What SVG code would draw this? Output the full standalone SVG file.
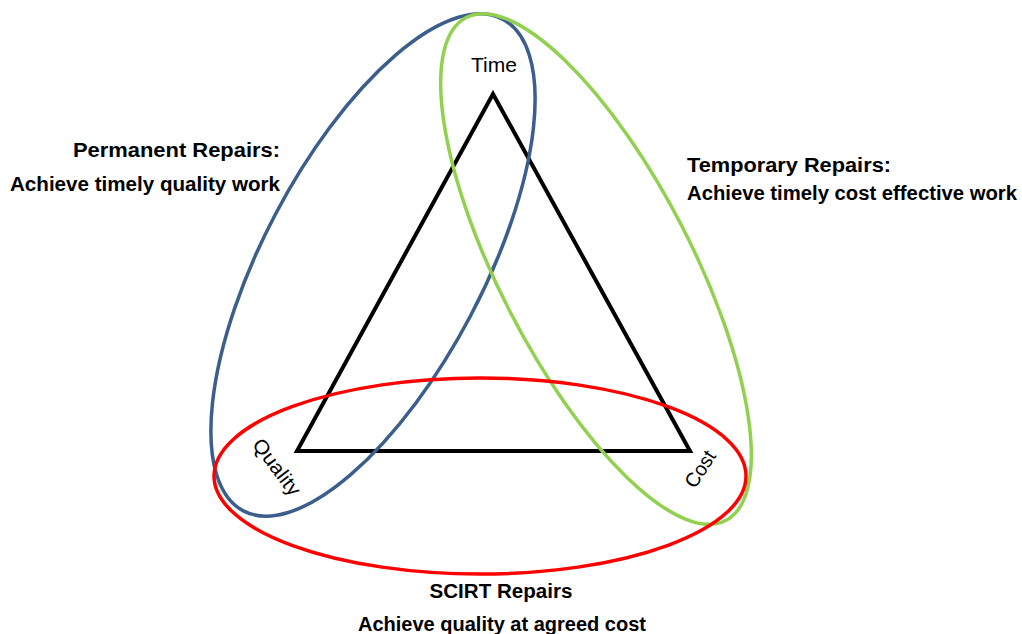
<svg xmlns="http://www.w3.org/2000/svg" width="1022" height="634" viewBox="0 0 1022 634">
<style>
.lbl{font-family:"Liberation Sans","Open Sans",sans-serif;font-size:20px;fill:#000}
.b{font-family:"Liberation Sans","Open Sans",sans-serif;font-size:20px;font-weight:bold;fill:#000}
.ell{fill:none;stroke-width:3.5}
</style>
<rect width="1022" height="634" fill="#fff"/>
<g id="connectors">
<polygon points="493,94 297,451 690,451" fill="none" stroke="#000" stroke-width="4" stroke-linejoin="miter"/>
</g>
<g id="permanent">
<ellipse class="ell" cx="373" cy="265" rx="278" ry="110" transform="rotate(-62.2 373 265)" stroke="#3B5E8C"/>
<text class="b" x="280" y="157" text-anchor="end" textLength="207" lengthAdjust="spacingAndGlyphs">Permanent Repairs:</text>
<text class="b" x="280" y="191" text-anchor="end" textLength="270" lengthAdjust="spacingAndGlyphs">Achieve timely quality work</text>
</g>
<g id="temporary">
<ellipse class="ell" cx="596" cy="269" rx="283" ry="96" transform="rotate(62.7 596 269)" stroke="#92D050"/>
<text class="b" x="687" y="172" textLength="204" lengthAdjust="spacingAndGlyphs">Temporary Repairs:</text>
<text class="b" x="687" y="200" textLength="330" lengthAdjust="spacingAndGlyphs">Achieve timely cost effective work</text>
</g>
<g id="scirt">
<ellipse class="ell" cx="480" cy="476" rx="266" ry="98" stroke="#FF0000"/>
<text class="b" x="501" y="598" text-anchor="middle" textLength="143" lengthAdjust="spacingAndGlyphs">SCIRT Repairs</text>
<text class="b" x="502" y="631" text-anchor="middle" textLength="288" lengthAdjust="spacingAndGlyphs">Achieve quality at agreed cost</text>
</g>
<g id="time"><text class="lbl" x="494" y="72" text-anchor="middle" textLength="46" lengthAdjust="spacingAndGlyphs">Time</text></g>
<g id="quality"><text class="lbl" x="0" y="7" text-anchor="middle" transform="translate(277 467) rotate(53)" textLength="66" lengthAdjust="spacingAndGlyphs">Quality</text></g>
<g id="cost"><text class="lbl" x="0" y="7" text-anchor="middle" transform="translate(700 469) rotate(-57)" textLength="40" lengthAdjust="spacingAndGlyphs">Cost</text></g>
</svg>
